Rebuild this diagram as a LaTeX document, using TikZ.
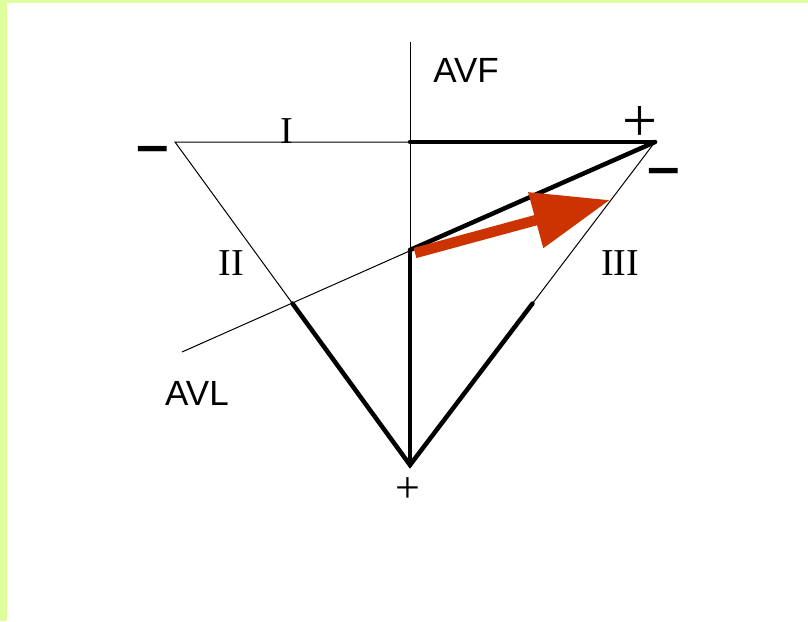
\documentclass[tikz,border=0pt]{standalone}
\usepackage{fontspec}
\setmainfont{Liberation Serif}
\newfontfamily\leadfont{Liberation Sans}
\newfontfamily\signfont{DejaVu Sans}
\usetikzlibrary{calc,arrows.meta}
\definecolor{pagegreen}{HTML}{DDFF9C}
\definecolor{vectorred}{HTML}{CC3300}

\begin{document}
\begin{tikzpicture}[x=1pt,y=-1pt,
  thin line/.style={line width=1pt},
  thick line/.style={line width=4.5pt,line cap=round},
  lead/.style={font=\fontsize{35}{40}\selectfont\leadfont},
  roman/.style={font=\fontsize{38}{42}\selectfont},
  sign/.style={font=\fontsize{46}{50}\selectfont\signfont\bfseries}]
  % background
  \useasboundingbox (0,0) rectangle (808,621);
  \fill[pagegreen] (0,0) rectangle (808,621);
  \fill[white] (7,3) rectangle (808,621);
  % triangle and axes
  \coordinate (L) at (175,142);
  \coordinate (R) at (655,142);
  \coordinate (B) at (410,465);
  \coordinate (O) at (410,142);
  \coordinate (Q) at (410,250);
  \coordinate (P) at ($(L)!0.5!(B)$);
  \coordinate (S) at ($(R)!0.5!(B)$);
  \coordinate (avftop) at (410,42);
  \coordinate (avlend) at (182,352);
  \draw[thin line] (L) -- (R) -- (B) -- cycle;
  \draw[thin line] (avftop) -- (B);
  \draw[thin line] (R) -- (avlend);
  \draw[thick line] (O) -- (R);
  \draw[thick line] (Q) -- (R);
  \draw[thick line] (Q) -- (B);
  \draw[thick line] (P) -- (B) -- (S);
  % vector
  \coordinate (v0) at (415,253);
  \coordinate (v1) at (610,200);
  \draw[vectorred,line width=10.5pt,-{Triangle[length=77pt,width=55pt]}] (v0) -- (v1);
  % labels
  \node[lead] (avf) at (466,70) {AVF};
  \node[lead] (avl) at (197,393) {AVL};
  \node[roman] (lead1) at (287,131) {I};
  \node[roman] (lead2) at (231,263) {II};
  \node[roman] (lead3) at (620,263) {III};
  \node[sign] (minusL) at (153,155) {−};
  \node[font=\fontsize{62}{66}\selectfont] (plusR) at (640,124) {+};
  \node[sign] (minusR) at (664,177) {−};
  \node[font=\fontsize{44}{48}\selectfont] (plusB) at (408,490) {+};
\end{tikzpicture}
\end{document}
